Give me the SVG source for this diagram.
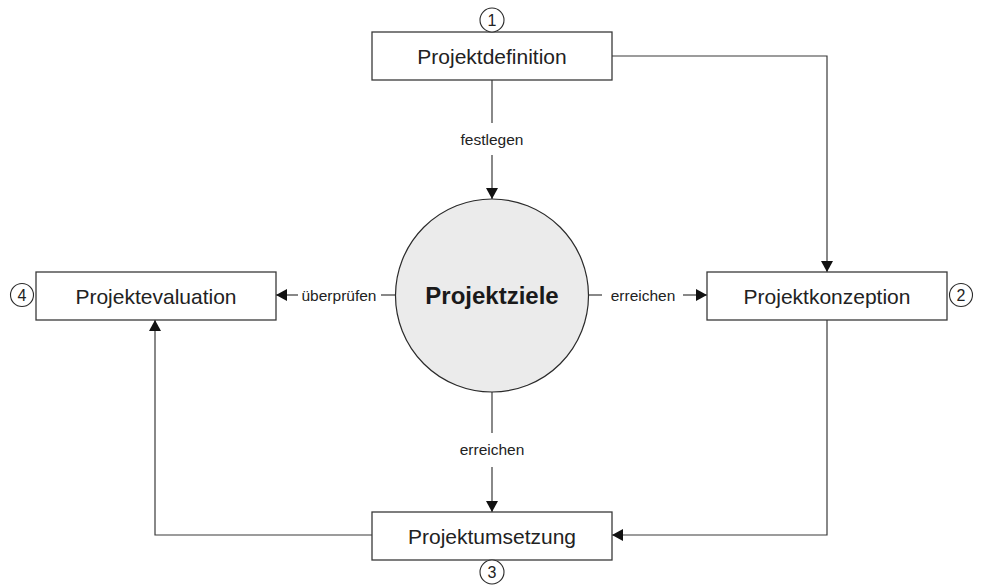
<svg xmlns="http://www.w3.org/2000/svg" width="981" height="585" viewBox="0 0 981 585">
  <style>
    .box { fill: #ffffff; stroke: #3a3a3a; stroke-width: 1.3; }
    .boxlabel { font-family: "Liberation Sans", Arial, sans-serif; font-size: 21px; fill: #222222; text-anchor: middle; dominant-baseline: central; }
    .num { fill: #ffffff; stroke: #2a2a2a; stroke-width: 1.1; }
    .numlabel { font-family: "Liberation Sans", Arial, sans-serif; font-size: 16px; fill: #222222; text-anchor: middle; dominant-baseline: central; }
    .edge { fill: none; stroke: #3a3a3a; stroke-width: 1.2; }
    .edgelabel { font-family: "Liberation Sans", Arial, sans-serif; font-size: 15.5px; fill: #222222; text-anchor: middle; dominant-baseline: central; }
    .core { fill: #ebebeb; stroke: #2a2a2a; stroke-width: 1.2; }
    .corelabel { font-family: "Liberation Sans", Arial, sans-serif; font-size: 24px; font-weight: bold; fill: #1a1a1a; text-anchor: middle; dominant-baseline: central; }
  </style>
  <defs>
    <marker id="arrow" markerWidth="12" markerHeight="12" viewBox="0 0 12 12" refX="11" refY="6" orient="auto" markerUnits="userSpaceOnUse">
      <path d="M0,0 L11,6 L0,12 z" fill="#111111"/>
    </marker>
  </defs>

  <rect width="981" height="585" fill="#ffffff"/>

  <!-- connectors -->
  <g id="connectors">
    <!-- Projektdefinition -> Projektziele (festlegen) -->
    <line class="edge" x1="492" y1="80" x2="492" y2="123"/>
    <line class="edge" x1="492" y1="155" x2="492" y2="199" marker-end="url(#arrow)"/>
    <text class="edgelabel" x="492" y="139">festlegen</text>

    <!-- Projektdefinition -> Projektkonzeption -->
    <polyline class="edge" points="612,56 827,56 827,272" marker-end="url(#arrow)"/>

    <!-- Projektziele -> Projektkonzeption (erreichen) -->
    <line class="edge" x1="588" y1="295" x2="602" y2="295"/>
    <line class="edge" x1="683" y1="295" x2="707" y2="295" marker-end="url(#arrow)"/>
    <text class="edgelabel" x="643" y="295">erreichen</text>

    <!-- Projektziele -> Projektevaluation (überprüfen) -->
    <line class="edge" x1="395" y1="295" x2="381" y2="295"/>
    <line class="edge" x1="298" y1="295" x2="276" y2="295" marker-end="url(#arrow)"/>
    <text class="edgelabel" x="339" y="295">überprüfen</text>

    <!-- Projektziele -> Projektumsetzung (erreichen) -->
    <line class="edge" x1="492" y1="392" x2="492" y2="433"/>
    <line class="edge" x1="492" y1="467" x2="492" y2="512" marker-end="url(#arrow)"/>
    <text class="edgelabel" x="492" y="449">erreichen</text>

    <!-- Projektkonzeption -> Projektumsetzung -->
    <polyline class="edge" points="827,320 827,535 612,535" marker-end="url(#arrow)"/>

    <!-- Projektumsetzung -> Projektevaluation -->
    <polyline class="edge" points="372,535 155,535 155,320" marker-end="url(#arrow)"/>
  </g>

  <!-- central goal -->
  <g id="projektziele">
    <circle class="core" cx="492" cy="295.5" r="96.5"/>
    <text class="corelabel" x="492" y="295">Projektziele</text>
  </g>

  <!-- phase 1 -->
  <g id="projektdefinition">
    <rect class="box" x="372" y="32" width="240" height="48"/>
    <text class="boxlabel" x="492" y="56">Projektdefinition</text>
    <circle class="num" cx="492" cy="20" r="12"/>
    <text class="numlabel" x="492" y="20">1</text>
  </g>

  <!-- phase 2 -->
  <g id="projektkonzeption">
    <rect class="box" x="707" y="272" width="240" height="48"/>
    <text class="boxlabel" x="827" y="296">Projektkonzeption</text>
    <circle class="num" cx="961" cy="295" r="11.5"/>
    <text class="numlabel" x="961" y="295">2</text>
  </g>

  <!-- phase 3 -->
  <g id="projektumsetzung">
    <rect class="box" x="372" y="512" width="240" height="48"/>
    <text class="boxlabel" x="492" y="536">Projektumsetzung</text>
    <circle class="num" cx="492" cy="572" r="12"/>
    <text class="numlabel" x="492" y="572">3</text>
  </g>

  <!-- phase 4 -->
  <g id="projektevaluation">
    <rect class="box" x="36" y="272" width="240" height="48"/>
    <text class="boxlabel" x="156" y="296">Projektevaluation</text>
    <circle class="num" cx="22" cy="295" r="11.5"/>
    <text class="numlabel" x="22" y="295">4</text>
  </g>
</svg>
